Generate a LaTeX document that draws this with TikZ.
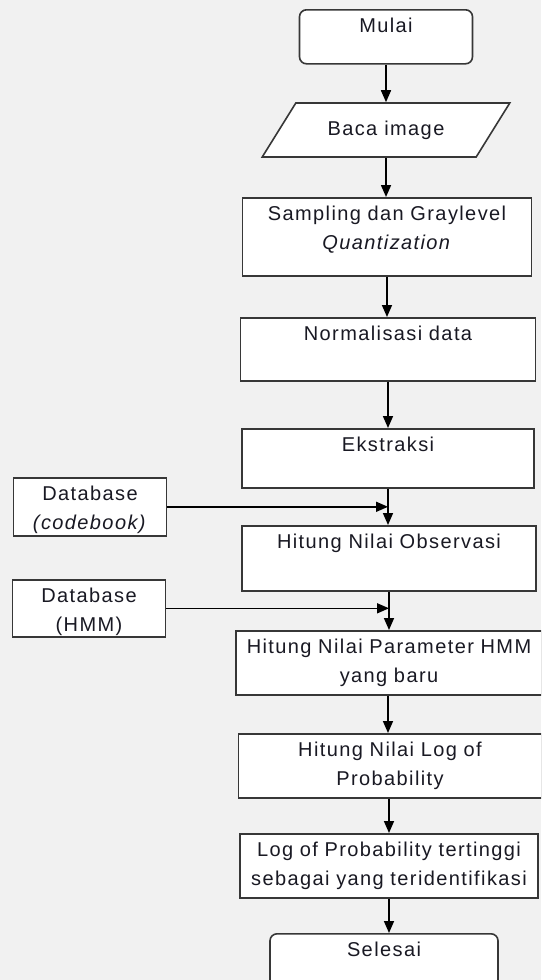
\documentclass[tikz,border=0pt]{standalone}
\usepackage{fontspec}
\setmainfont{Liberation Sans}[LetterSpace=7]
\usetikzlibrary{shapes.geometric,arrows.meta}
\definecolor{latar}{RGB}{241,241,241}
\definecolor{garis}{RGB}{55,55,55}
\definecolor{teks}{RGB}{25,25,35}
\begin{document}
\begin{tikzpicture}[x = 1pt, y = -1pt,
        kotak/.style = {draw = garis, fill = white, line width = 1.6pt, inner sep = 0pt, anchor = north, align = center, text = teks, font = \fontsize{20}{29}\selectfont, text height = 23pt},
        terminal/.style = {kotak, rounded corners = 7pt},
        masukan/.style = {trapezium, trapezium stretches = true, trapezium left angle = 40.6, trapezium right angle = 139.4, draw = garis, fill = white, line width = 1.6pt, inner sep = 0pt, text = teks, font = \fontsize{20}{29}\selectfont, minimum width = 248pt, minimum height = 54pt},
        panah/.style = {line width = 1.6pt, -{Triangle[width = 10pt, length = 12pt]}}]
        \useasboundingbox (0, 0) rectangle (541, 980);
        \fill [latar] (0, 0) rectangle (541, 980);
        \clip (0, 0) rectangle (541, 980);
        % alur utama
        \node [terminal, text width = 173pt, text depth = 31pt] (mulai) at (386, 9) {Mulai};
        \node [masukan] (baca) at (386, 130) {Baca image};
        \node [kotak, text width = 289pt, text depth = 55pt] (sampling) at (387, 197) {Sampling dan Graylevel\\\textit{Quantization}};
        \node [kotak, text width = 295pt, text depth = 40pt] (normal) at (388, 317) {Normalisasi data};
        \node [kotak, text width = 292pt, text depth = 36pt] (ekstraksi) at (388, 428) {Ekstraksi};
        \node [kotak, text width = 294pt, text depth = 42pt] (observasi) at (389, 525) {Hitung Nilai Observasi};
        \node [kotak, text width = 306pt, text depth = 41pt] (parameter) at (389, 630) {Hitung Nilai Parameter HMM\\yang baru};
        \node [kotak, text width = 303pt, text depth = 41pt] (logprob) at (390, 733) {Hitung Nilai Log of\\Probability};
        \node [kotak, text width = 298pt, text depth = 41pt] (tertinggi) at (389, 833) {Log of Probability tertinggi\\sebagai yang teridentifikasi};
        \node [terminal, text width = 228pt, text depth = 37pt] (selesai) at (384, 933) {Selesai};
        % database
        \node [kotak, text width = 153pt, text depth = 35pt] (dbcode) at (90, 477) {Database\\\textit{(codebook)}};
        \node [kotak, text width = 153pt, text depth = 34pt] (dbhmm) at (89, 579) {Database\\(HMM)};
        % panah
        \draw [panah] (mulai.south) -- (mulai.south |- baca.north);
        \draw [panah] (baca.south) -- (baca.south |- sampling.north);
        \draw [panah] (sampling.south) -- (sampling.south |- normal.north);
        \draw [panah] (normal.south) -- (normal.south |- ekstraksi.north);
        \draw [panah] (ekstraksi.south) -- (ekstraksi.south |- observasi.north);
        \draw [panah] (observasi.south) -- (observasi.south |- parameter.north);
        \draw [panah] (parameter.south -| ekstraksi.south) -- (logprob.north -| ekstraksi.south);
        \draw [panah] (logprob.south -| tertinggi.south) -- (tertinggi.north);
        \draw [panah] (tertinggi.south) -- (tertinggi.south |- selesai.north);
        \draw [panah] (dbcode.east) -- (dbcode.east -| ekstraksi.south);
        \draw [panah] (dbhmm.east) -- (dbhmm.east -| observasi.south);
\end{tikzpicture}
\end{document}
